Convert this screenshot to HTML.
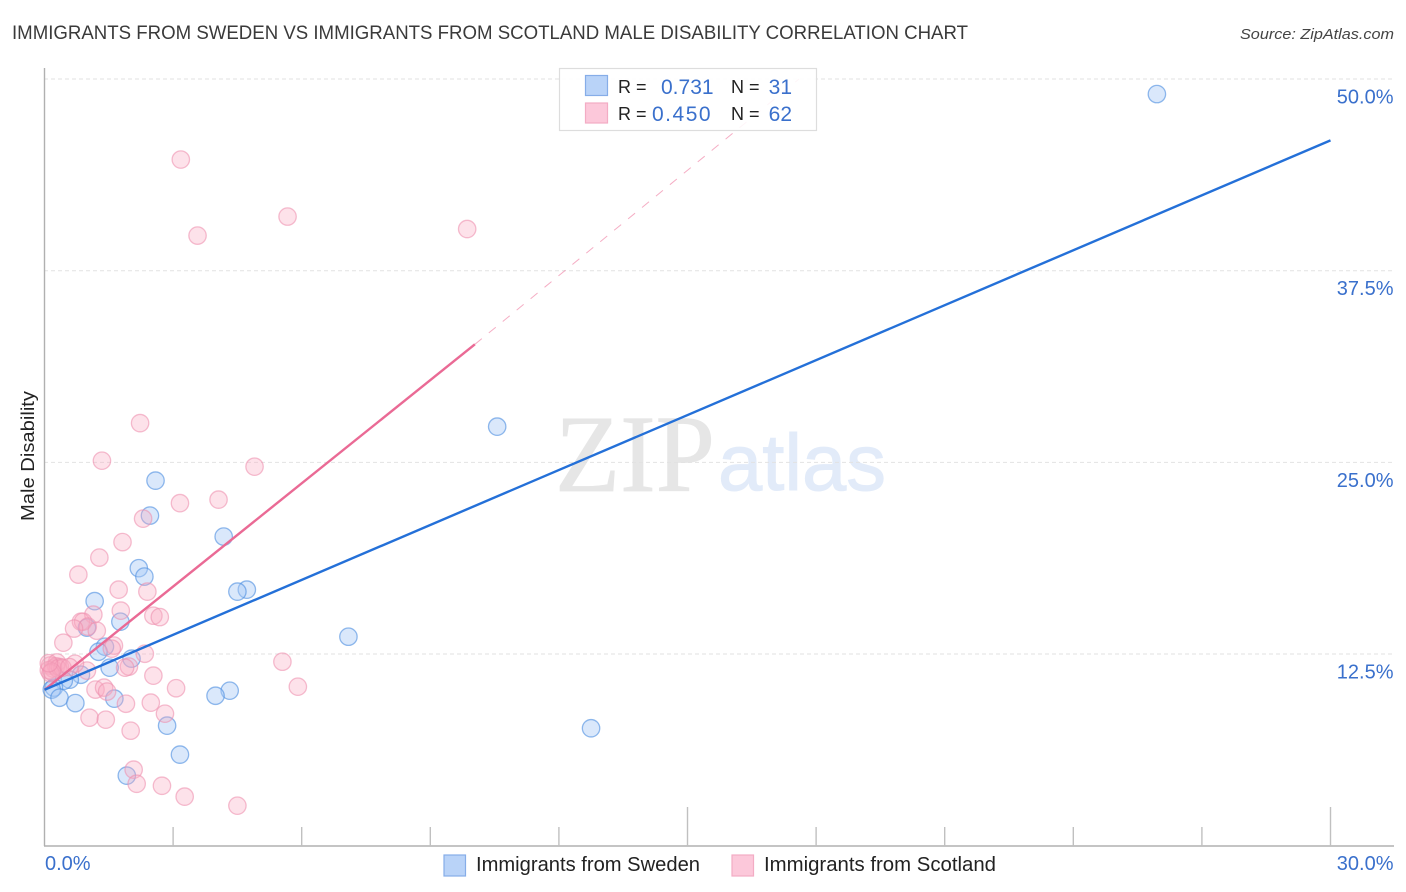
<!DOCTYPE html>
<html>
<head>
<meta charset="utf-8">
<style>
html,body{margin:0;padding:0;background:#fff;width:1406px;height:892px;overflow:hidden}
svg{display:block;font-family:"Liberation Sans",sans-serif}
</style>
</head>
<body>
<svg id="chart" width="1406" height="892" viewBox="0 0 1406 892">
<text x="12" y="39" font-size="19.5" fill="#3a3a3a" textLength="956" lengthAdjust="spacingAndGlyphs">IMMIGRANTS FROM SWEDEN VS IMMIGRANTS FROM SCOTLAND MALE DISABILITY CORRELATION CHART</text>
<text x="1394" y="39" font-size="15" font-style="italic" fill="#444" text-anchor="end" textLength="154" lengthAdjust="spacingAndGlyphs">Source: ZipAtlas.com</text>
<text x="555" y="491" font-family="'Liberation Serif',serif" font-size="110" fill="#e6e6e6" stroke="#e6e6e6" stroke-width="0.8" textLength="160" lengthAdjust="spacingAndGlyphs">ZIP</text>
<text x="718" y="490" font-size="80" fill="#e2ebf9" stroke="#e2ebf9" stroke-width="1" textLength="168" lengthAdjust="spacingAndGlyphs">atlas</text>
<g id="grid"></g>
<g id="axes"></g>
<g id="marks-sweden"></g>
<g id="marks-scotland"></g>
<g id="trends"></g>
<text x="34" y="456" font-size="18.5" fill="#222" text-anchor="middle" transform="rotate(-90 34 456)" textLength="130" lengthAdjust="spacingAndGlyphs">Male Disability</text>
<g>
<rect x="559.5" y="68.5" width="257" height="62" fill="#fff" fill-opacity="0.88" stroke="#ddd" stroke-width="1.2"/>
<rect x="585.5" y="75.5" width="22" height="20" fill="#b9d3f8" stroke="#86ade8" stroke-width="1.2"/>
<rect x="585.5" y="103" width="22" height="20" fill="#fcc8da" stroke="#f3acc4" stroke-width="1.2"/>
<text x="618" y="93" font-size="18" fill="#222">R =</text>
<text x="661" y="94" font-size="21" fill="#3a70cc">0.731</text>
<text x="731" y="93" font-size="18" fill="#222">N =</text>
<text x="792" y="94" font-size="21" fill="#3a70cc" text-anchor="end">31</text>
<text x="618" y="120" font-size="18" fill="#222">R =</text>
<text x="652" y="121" font-size="21" letter-spacing="1.5" fill="#3a70cc">0.450</text>
<text x="731" y="120" font-size="18" fill="#222">N =</text>
<text x="792" y="121" font-size="21" fill="#3a70cc" text-anchor="end">62</text>
</g>
<g>
<rect x="444" y="855" width="21.5" height="21" fill="#b9d3f8" stroke="#86ade8" stroke-width="1.2"/>
<text x="476" y="871" font-size="20" fill="#222" textLength="224" lengthAdjust="spacingAndGlyphs">Immigrants from Sweden</text>
<rect x="732" y="855" width="21.5" height="21" fill="#fcc8da" stroke="#f3acc4" stroke-width="1.2"/>
<text x="764" y="871" font-size="20" fill="#222" textLength="232" lengthAdjust="spacingAndGlyphs">Immigrants from Scotland</text>
</g>
</svg>
<script>
const yTickValues = [12.5, 25, 37.5, 50];
const yTickLabels = ['12.5%', '25.0%', '37.5%', '50.0%'];
const xTickValues = [0, 3, 6, 9, 12, 15, 18, 21, 24, 27, 30];
const xEndLabels = ['0.0%', '30.0%'];
const swedenX = [25.95,10.56,2.59,2.46,4.18,2.20,2.33,4.72,4.50,1.17,1.77,0.99,7.09,1.41,1.26,2.03,1.52,0.85,0.59,0.45,0.22,0.17,4.32,3.99,0.35,1.63,0.72,2.86,12.75,3.16,1.92];
const swedenY = [49.02,27.33,23.81,21.53,20.16,18.10,17.55,16.70,16.57,15.95,14.61,14.22,13.63,12.98,12.65,12.20,11.61,11.15,10.83,10.76,10.31,10.18,10.11,9.78,9.65,9.59,9.30,7.83,7.66,5.94,4.57];
const scotlandX = [3.18,5.67,3.57,9.86,2.23,1.34,4.90,4.06,3.16,2.30,1.82,1.28,0.79,1.73,2.40,1.78,1.14,2.54,2.69,0.85,0.90,1.01,0.69,1.22,1.62,1.57,0.44,2.34,5.55,1.97,1.88,0.99,0.71,0.29,2.54,1.19,1.39,1.46,3.07,5.91,2.48,1.90,2.81,1.05,1.43,2.01,2.08,2.15,2.74,3.27,4.50,0.13,0.20,0.27,0.10,0.31,0.36,0.42,0.58,0.14,0.17,0.10];
const scotlandY = [44.75,41.03,39.79,40.22,27.56,25.11,24.72,22.57,22.34,21.33,19.80,18.79,17.68,16.70,16.57,15.33,15.07,15.00,14.91,14.61,14.61,14.29,14.16,14.02,13.05,12.85,13.24,12.52,12.00,11.68,11.61,11.42,11.87,11.95,11.09,10.18,10.31,10.05,10.27,10.37,9.33,9.26,8.61,8.35,8.22,7.50,4.96,4.04,3.91,3.20,2.61,11.75,11.55,11.70,11.45,11.55,11.65,11.60,11.65,11.25,11.35,11.90];
const swedenTrendX = [0, 30];
const swedenTrendY = [10.17, 46];
const scotlandTrendX = [0, 10.04];
const scotlandTrendY = [10.17, 32.7];
const scotlandDashX = [10.04, 17.6];
const scotlandDashY = [32.7, 50];

const NS = 'http://www.w3.org/2000/svg';
const xScale = v => 44.5 + v * 42.867;
const yScale = v => 845.7 - v * 15.333;

function make(parent, tag, attrs, text) {
  const el = document.createElementNS(NS, tag);
  for (const k in attrs) el.setAttribute(k, attrs[k]);
  if (text !== undefined) el.textContent = text;
  document.getElementById(parent).appendChild(el);
  return el;
}

yTickValues.forEach((v, i) => {
  const line = make('grid', 'line', {x1: 44, x2: 1394, y1: yScale(v), y2: yScale(v), stroke: '#e2e2e2', 'stroke-width': 1, 'stroke-dasharray': '4 3'});
  
  
  const label = make('axes', 'text', {x: 1393.5, y: yScale(v) + 24.5, 'font-size': 20, fill: '#3a70cc', 'text-anchor': 'end'}, yTickLabels[i]);
  
  
});

const yAxis = make('axes', 'line', {x1: 44.5, x2: 44.5, y1: 68, y2: 846, stroke: '#b0b0b0', 'stroke-width': 1.4});


const xAxis = make('axes', 'line', {x1: 44, x2: 1394, y1: 846, y2: 846, stroke: '#b0b0b0', 'stroke-width': 1.4});



xTickValues.slice(1).forEach(v => {
  const tall = v === 15 || v === 30;
  const tick = make('axes', 'line', {x1: xScale(v), x2: xScale(v), y1: tall ? 807 : 827, y2: 846, stroke: '#c0c0c0', 'stroke-width': 1.4});
  
  
});

const xStart = make('axes', 'text', {x: 45, y: 870, 'font-size': 20, fill: '#3a70cc'}, xEndLabels[0]);


const xEnd = make('axes', 'text', {x: 1393.5, y: 870, 'font-size': 20, fill: '#3a70cc', 'text-anchor': 'end'}, xEndLabels[1]);



swedenX.forEach((x, i) => {
  const dot = make('marks-sweden', 'circle', {cx: xScale(x), cy: yScale(swedenY[i]), r: 8.7, fill: '#a8c9f5', 'fill-opacity': 0.42, stroke: '#4f8fe0', 'stroke-opacity': 0.62, 'stroke-width': 1.3});
  
  
});

scotlandX.forEach((x, i) => {
  const dot = make('marks-scotland', 'circle', {cx: xScale(x), cy: yScale(scotlandY[i]), r: 8.7, fill: '#f8a9c2', 'fill-opacity': 0.34, stroke: '#ee8fae', 'stroke-opacity': 0.58, 'stroke-width': 1.3});
  
  
});

const dashLine = make('trends', 'line', {x1: xScale(scotlandDashX[0]), y1: yScale(scotlandDashY[0]), x2: xScale(scotlandDashX[1]), y2: yScale(scotlandDashY[1]), stroke: '#ec6a94', 'stroke-opacity': 0.55, 'stroke-width': 1, 'stroke-dasharray': '9 9'});


const pinkLine = make('trends', 'line', {x1: xScale(scotlandTrendX[0]), y1: yScale(scotlandTrendY[0]), x2: xScale(scotlandTrendX[1]), y2: yScale(scotlandTrendY[1]), stroke: '#ea6a95', 'stroke-width': 2.4});


const blueLine = make('trends', 'line', {x1: xScale(swedenTrendX[0]), y1: yScale(swedenTrendY[0]), x2: xScale(swedenTrendX[1]), y2: yScale(swedenTrendY[1]), stroke: '#2470d8', 'stroke-width': 2.4});


</script>
</body>
</html>
